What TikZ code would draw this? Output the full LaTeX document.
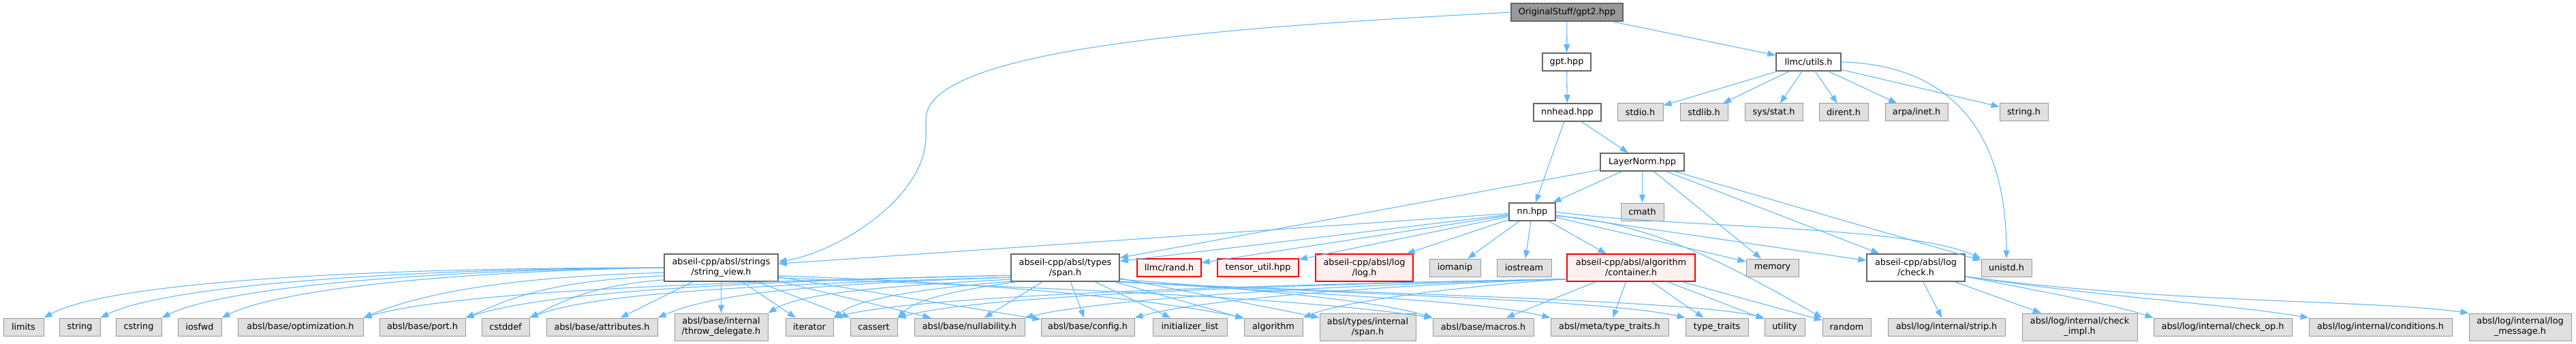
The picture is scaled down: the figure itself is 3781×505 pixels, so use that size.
\documentclass[tikz,border=0pt]{standalone}
\usepackage{fontspec}
\setmainfont{DejaVu Sans}
\usetikzlibrary{arrows.meta}
\definecolor{edgec}{HTML}{63B8FF}
\definecolor{gfill}{HTML}{E0E0E0}
\definecolor{gbord}{HTML}{999999}
\definecolor{wbord}{HTML}{666666}
\definecolor{rfill}{HTML}{FFF0F0}
\definecolor{rbord}{HTML}{FF0000}
\definecolor{rootfill}{HTML}{999999}
\tikzset{
 box/.style={rectangle, inner sep=0pt, font=\fontsize{12.8}{15}\selectfont, align=center, minimum height=26pt, text=black},
 ext/.style={box, fill=gfill, draw=gbord, line width=1pt},
 loc/.style={box, fill=white, draw=wbord, line width=1.6pt},
 trunc/.style={box, fill=rfill, draw=rbord, line width=1.4pt},
 rootbox/.style={box, fill=rootfill, draw=wbord, line width=1.4pt},
 two/.style={minimum height=40pt},
 e/.style={draw=edgec, line width=1.1pt, -{Triangle[length=12pt,width=9pt]}},
}
\begin{document}
\begin{tikzpicture}[x=1pt,y=1pt]
\fill[white] (0,0) rectangle (3781,-505);
\useasboundingbox (0,0) rectangle (3781,-505);
% row 0
\node[rootbox, minimum width=164pt] (gpt2) at (2300,-18) {OriginalStuff/gpt2.hpp};
% row 1
\node[loc, minimum width=71pt] (gpt) at (2299.5,-91) {gpt.hpp};
\node[loc, minimum width=95pt] (utils) at (2654.5,-91) {llmc/utils.h};
% row 2
\node[loc, minimum width=99pt] (nnhead) at (2300.5,-165) {nnhead.hpp};
\node[ext, minimum width=67pt] (stdio) at (2407.5,-165) {stdio.h};
\node[ext, minimum width=70pt] (stdlib) at (2501,-165) {stdlib.h};
\node[ext, minimum width=85pt] (sysstat) at (2603.5,-165) {sys/stat.h};
\node[ext, minimum width=72pt] (dirent) at (2706,-165) {dirent.h};
\node[ext, minimum width=92pt] (arpa) at (2813,-165) {arpa/inet.h};
\node[ext, minimum width=71pt] (stringh) at (2970.5,-165) {string.h};
% row 3
\node[loc, minimum width=123pt] (layernorm) at (2410.5,-238) {LayerNorm.hpp};
% row 4
\node[loc, minimum width=68pt] (nn) at (2249,-311) {nn.hpp};
\node[ext, minimum width=63pt] (cmath) at (2410.5,-311) {cmath};
% row 5
\node[loc, two, minimum width=167pt] (sv) at (1058.5,-393) {abseil-cpp/absl/strings\\/string\_view.h};
\node[loc, two, minimum width=159pt] (span) at (1563.5,-393) {abseil-cpp/absl/types\\/span.h};
\node[trunc, minimum width=94pt] (rand) at (1716,-393) {llmc/rand.h};
\node[trunc, minimum width=119pt] (tensor) at (1846.5,-393) {tensor\_util.hpp};
\node[trunc, two, minimum width=143pt] (logh) at (2002.5,-393) {abseil-cpp/absl/log\\/log.h};
\node[ext, minimum width=75pt] (iomanip) at (2135.5,-393) {iomanip};
\node[ext, minimum width=80pt] (iostream) at (2237,-393) {iostream};
\node[trunc, two, minimum width=188pt] (container) at (2394,-393) {abseil-cpp/absl/algorithm\\/container.h};
\node[ext, minimum width=77pt] (memory) at (2601.5,-393) {memory};
\node[loc, two, minimum width=144pt] (check) at (2812,-393) {abseil-cpp/absl/log\\/check.h};
\node[ext, minimum width=74pt] (unistd) at (2945,-393) {unistd.h};
% row 6
\node[ext, minimum width=59pt] (limits) at (34.5,-480) {limits};
\node[ext, minimum width=60pt] (string) at (117,-480) {string};
\node[ext, minimum width=67pt] (cstring) at (203.5,-480) {cstring};
\node[ext, minimum width=64pt] (iosfwd) at (293,-480) {iosfwd};
\node[ext, minimum width=184pt] (optim) at (441,-480) {absl/base/optimization.h};
\node[ext, minimum width=126pt] (port) at (620,-480) {absl/base/port.h};
\node[ext, minimum width=70pt] (cstddef) at (742,-480) {cstddef};
\node[ext, minimum width=163pt] (attrib) at (883.5,-480) {absl/base/attributes.h};
\node[ext, two, minimum width=137pt] (throwd) at (1058.5,-480) {absl/base/internal\\/throw\_delegate.h};
\node[ext, minimum width=70pt] (iterator) at (1188,-480) {iterator};
\node[ext, minimum width=69pt] (cassert) at (1282.5,-480) {cassert};
\node[ext, minimum width=162pt] (nullab) at (1423,-480) {absl/base/nullability.h};
\node[ext, minimum width=137pt] (config) at (1596.5,-480) {absl/base/config.h};
\node[ext, minimum width=109pt] (initl) at (1746.5,-480) {initializer\_list};
\node[ext, minimum width=86pt] (algorithm) at (1869,-480) {algorithm};
\node[ext, two, minimum width=141pt] (ispan) at (2007.5,-480) {absl/types/internal\\/span.h};
\node[ext, minimum width=148pt] (macros) at (2177,-480) {absl/base/macros.h};
\node[ext, minimum width=173pt] (metatt) at (2362.5,-480) {absl/meta/type\_traits.h};
\node[ext, minimum width=92pt] (typetraits) at (2520,-480) {type\_traits};
\node[ext, minimum width=59pt] (utility) at (2619.5,-480) {utility};
\node[ext, minimum width=71pt] (random) at (2710.5,-480) {random};
\node[ext, minimum width=172pt] (strip) at (2857,-480) {absl/log/internal/strip.h};
\node[ext, two, minimum width=169pt] (checkimpl) at (3052.5,-480) {absl/log/internal/check\\\_impl.h};
\node[ext, minimum width=203pt] (checkop) at (3262.5,-480) {absl/log/internal/check\_op.h};
\node[ext, minimum width=210pt] (conditions) at (3494,-480) {absl/log/internal/conditions.h};
\node[ext, two, minimum width=150pt] (logmsg) at (3699,-480) {absl/log/internal/log\\\_message.h};

% edges from root
\draw[e] (gpt2) -- (gpt);
\draw[e] (gpt2) -- (utils);
\draw[e] (gpt2.west) .. controls (1800,-40) and (1359,-70) .. (1359,-175) -- (1359,-200) .. controls (1359,-290) and (1230,-370) .. (sv.6);
\draw[e] (gpt) -- (nnhead);
% utils
\draw[e] (utils) -- (stdio);
\draw[e] (utils) -- (stdlib);
\draw[e] (utils) -- (sysstat);
\draw[e] (utils) -- (dirent);
\draw[e] (utils) -- (arpa);
\draw[e] (utils) -- (stringh);
\draw[e] (utils.east) .. controls (2860,-95) and (2945,-190) .. (unistd.north);
% nnhead
\draw[e] (nnhead) -- (layernorm);
\draw[e] (nnhead) -- (nn);
% LayerNorm
\draw[e] (layernorm) -- (nn);
\draw[e] (layernorm) -- (cmath);
\draw[e] (layernorm) -- (memory);
\draw[e] (layernorm) -- (check);
\draw[e] (layernorm) -- (unistd);
\draw[e] (layernorm) -- (span);
% nn
\draw[e] (nn) -- (sv);
\draw[e] (nn) -- (span);
\draw[e] (nn) -- (rand);
\draw[e] (nn) -- (tensor);
\draw[e] (nn) -- (logh);
\draw[e] (nn) -- (iomanip);
\draw[e] (nn) -- (iostream);
\draw[e] (nn) -- (container);
\draw[e] (nn) -- (memory);
\draw[e] (nn) -- (check);
\draw[e] (nn.east) .. controls (2450,-335) and (2800,-330) .. (unistd.north west);
\draw[e] (nn.-10) .. controls (2420,-325) and (2540,-390) .. (random.north west);
% string_view west
\draw[e] (sv.west) .. controls +(-470,0) and +(90,50) .. (limits.north east);
\draw[e] (sv.west) .. controls +(-420,-2) and +(90,45) .. (string.north east);
\draw[e] (sv.west) .. controls +(-380,-4) and +(85,42) .. (cstring.north east);
\draw[e] (sv.west) .. controls +(-330,-6) and +(80,40) .. (iosfwd.north east);
\draw[e] (sv.-175) .. controls +(-250,-6) and +(70,30) .. (optim.north east);
\draw[e] (sv.-172) .. controls +(-180,-8) and +(60,25) .. (port.north east);
\draw[e] (sv.-168) .. controls +(-110,-8) and +(40,20) .. (cstddef.north east);
\draw[e] (sv) -- (attrib);
% string_view down/east
\draw[e] (sv) -- (throwd);
\draw[e] (sv) -- (iterator);
\draw[e] (sv) -- (cassert);
\draw[e] (sv) -- (nullab);
\draw[e] (sv) -- (config);
\draw[e] (sv.-8) .. controls +(300,-10) and +(-150,30) .. (algorithm.north west);
\draw[e] (sv.-10) .. controls +(400,-15) and +(-200,30) .. (macros.north west);
% span west
\draw[e] (span.-172) .. controls +(-500,-10) and +(120,35) .. (optim.north east);
\draw[e] (span.-172) .. controls +(-450,-10) and +(110,35) .. (port.north east);
\draw[e] (span.-170) .. controls +(-380,-10) and +(90,35) .. (cstddef.north east);
\draw[e] (span.-170) .. controls +(-300,-10) and +(80,35) .. (attrib.north east);
\draw[e] (span.-168) .. controls +(-180,-10) and +(50,30) .. (throwd.north east);
\draw[e] (span.-166) .. controls +(-120,-10) and +(40,30) .. (iterator.north east);
\draw[e] (span.-164) .. controls +(-70,-10) and +(30,30) .. (cassert.north east);
% span down/east
\draw[e] (span) -- (nullab);
\draw[e] (span) -- (config);
\draw[e] (span) -- (initl);
\draw[e] (span) -- (algorithm);
\draw[e] (span) -- (ispan);
\draw[e] (span.-12) .. controls +(200,-15) and +(-80,25) .. (macros.north west);
\draw[e] (span.-14) .. controls +(300,-20) and +(-100,25) .. (metatt.north west);
\draw[e] (span.-15) .. controls +(400,-20) and +(-110,25) .. (typetraits.north west);
\draw[e] (span.-16) .. controls +(450,-20) and +(-110,25) .. (utility.north west);
% container
\draw[e] (container.-170) .. controls +(-150,-10) and +(60,25) .. (algorithm.north east);
\draw[e] (container.-170) .. controls +(-300,-10) and +(90,25) .. (config.north east);
\draw[e] (container.-170) .. controls +(-400,-10) and +(100,25) .. (nullab.north east);
\draw[e] (container.-170) .. controls +(-500,-10) and +(110,30) .. (cassert.north east);
\draw[e] (container.-170) .. controls +(-550,-10) and +(110,30) .. (iterator.north east);
\draw[e] (container) -- (macros);
\draw[e] (container) -- (metatt);
\draw[e] (container) -- (typetraits);
\draw[e] (container) -- (utility);
\draw[e] (container) -- (random);
% check
\draw[e] (check) -- (strip);
\draw[e] (check) -- (checkimpl);
\draw[e] (check.-10) .. controls +(100,-20) and +(-60,20) .. (checkop.north west);
\draw[e] (check.-10) .. controls +(200,-30) and +(-120,20) .. (conditions.north west);
\draw[e] (check.-10) .. controls +(300,-40) and +(-150,20) .. (logmsg.north west);
\end{tikzpicture}
\end{document}
